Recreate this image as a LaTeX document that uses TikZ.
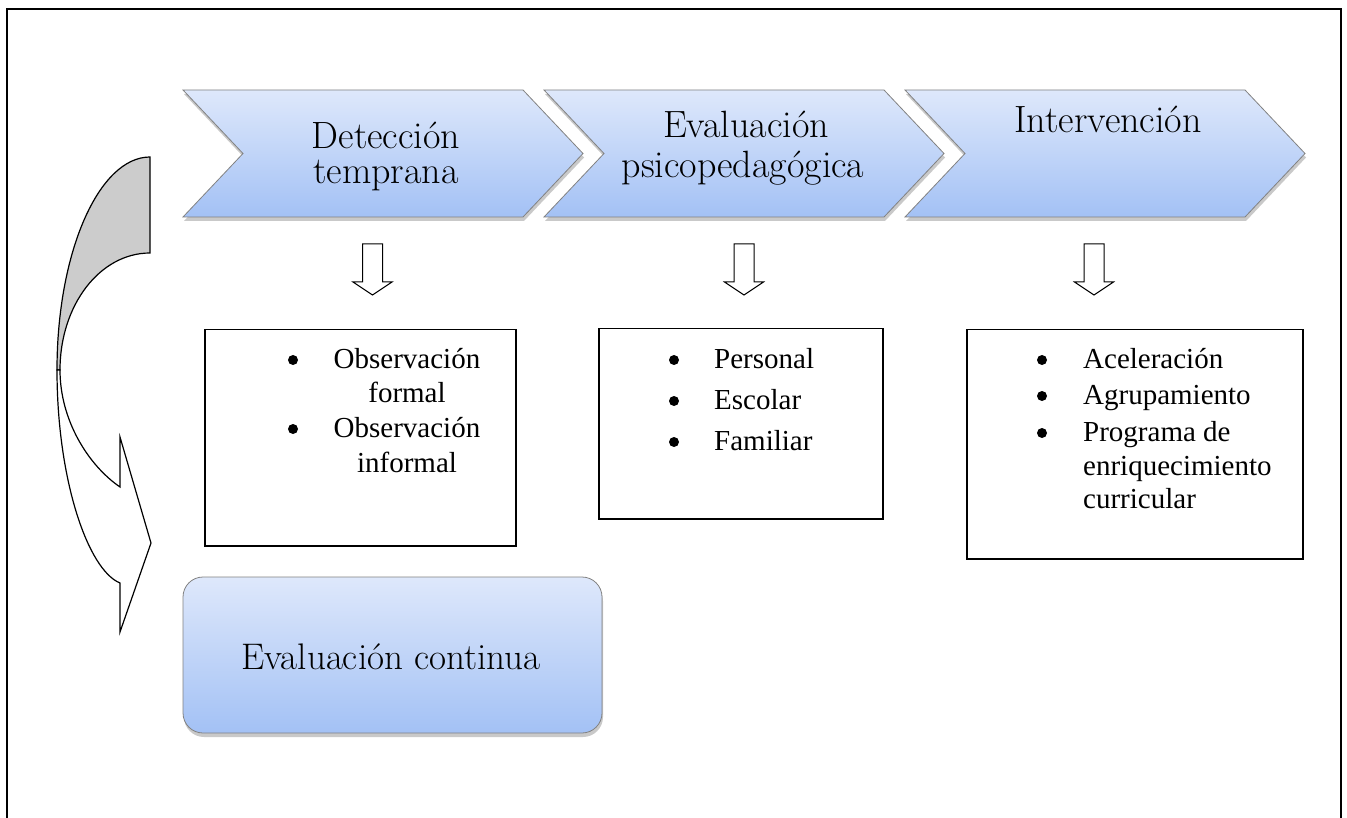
\documentclass[tikz,border=0pt]{standalone}
\usepackage{fontspec}
\newfontfamily\tnr{Liberation Serif}
\usetikzlibrary{shadows}
\definecolor{chevtop}{RGB}{222,232,251}
\definecolor{chevbot}{RGB}{163,193,245}
\definecolor{chevedge}{RGB}{130,130,130}
\definecolor{backgray}{RGB}{204,204,204}
\tikzset{
  blueshape/.style={top color=chevtop, bottom color=chevbot, draw=chevedge, line width=0.8pt,
    drop shadow={shadow xshift=1pt, shadow yshift=-4pt, opacity=0.35, fill=black!60}},
  chevtext/.style={font=\fontsize{38}{40}\selectfont, inner sep=0pt, anchor=base},
  listtext/.style={font=\tnr\fontsize{29}{34}\selectfont, inner sep=0pt},
  listbox/.style={draw=black, line width=1.5pt, anchor=north west, inner sep=0pt},
  blockarrow/.style={draw=black, line width=1pt, fill=white},
  bulletdot/.style={circle, fill=black, inner sep=0pt, minimum size=10pt},
  chevshape/.pic={\path[blueshape] (0,0) -- (340,0) -- (400,63.5) -- (340,127) -- (0,127) -- (60,63.5) -- cycle;},
  downarrow/.pic={\path[blockarrow] (-10,0) -- (10,0) -- (10,38) -- (19.5,38) -- (0,51) -- (-19.5,38) -- (-10,38) -- cycle;}
}
\begin{document}
\begin{tikzpicture}[x=1pt,y=-1pt]
\useasboundingbox[fill=white] (0,0) rectangle (1347,818);
% frame
\draw[line width=2pt] (7,818) -- (7,9) -- (1341,9) -- (1341,818);

% chevrons
\pic at (905,90) {chevshape};
\pic at (544,90) {chevshape};
\pic at (183,90) {chevshape};
\node[chevtext, text depth=0pt] (c1a) at (386,149) {Detección};
\node[chevtext] (c1b) at (386,184) {temprana};
\node[chevtext, text depth=0pt] (c2a) at (746,138) {Evaluación};
\node[chevtext] (c2b) at (743,178) {psicopedagógica};
\node[chevtext] (c3a) at (1108,133) {Intervención};

% down arrows
\pic at (372.5,244) {downarrow};
\pic at (744,244) {downarrow};
\pic at (1094,244) {downarrow};

% boxes
\node[listbox, minimum width=311pt, minimum height=216pt] (box1) at (204,329) {};
\node[listbox, minimum width=284pt, minimum height=190pt] (box2) at (598,328) {};
\node[listbox, minimum width=336pt, minimum height=229pt] (box3) at (966,329) {};

% box 1 content
\node[bulletdot] (d11) at (293,360) {};
\node[bulletdot] (d12) at (293,429) {};
\node[listtext, anchor=base] (l11) at (407,368) {Observación};
\node[listtext, anchor=base] (l12) at (407,402) {formal};
\node[listtext, anchor=base] (l13) at (407,437) {Observación};
\node[listtext, anchor=base] (l14) at (407,472) {informal};

% box 2 content
\node[bulletdot] (d21) at (674,360) {};
\node[bulletdot] (d22) at (674,401) {};
\node[bulletdot] (d23) at (674,442) {};
\node[listtext, anchor=base west] (l21) at (714,368) {Personal};
\node[listtext, anchor=base west] (l22) at (714,409) {Escolar};
\node[listtext, anchor=base west] (l23) at (714,450) {Familiar};

% box 3 content
\node[bulletdot] (d31) at (1042,360) {};
\node[bulletdot] (d32) at (1042,396) {};
\node[bulletdot] (d33) at (1042,433) {};
\node[listtext, anchor=base west] (l31) at (1083,368) {Aceleración};
\node[listtext, anchor=base west] (l32) at (1083,404) {Agrupamiento};
\node[listtext, anchor=base west] (l33) at (1083,441) {Programa de};
\node[listtext, anchor=base west] (l34) at (1083,475) {enriquecimiento};
\node[listtext, anchor=base west] (l35) at (1083,508) {curricular};

% evaluacion continua
\path[blueshape, rounded corners=20pt] (183,577) rectangle (602,733);
\node[chevtext, font=\fontsize{37}{40}\selectfont] (ec) at (391,669) {Evaluación continua};

% curved arrow (left)
\path[fill=backgray, draw=black, line width=1.2pt]
  (150,157) .. controls (99,157) and (57,252) .. (57,370)
  -- (60,370) .. controls (60,305) and (100,253) .. (150,253) -- cycle;
\path[fill=white, draw=black, line width=1.2pt, line join=miter]
  (57,370) .. controls (57,480) and (88,570) .. (120,583)
  -- (120,632) -- (151,543) -- (120,437) -- (120,487)
  .. controls (88,465) and (60,420) .. (60,370) -- cycle;
\end{tikzpicture}
\end{document}
